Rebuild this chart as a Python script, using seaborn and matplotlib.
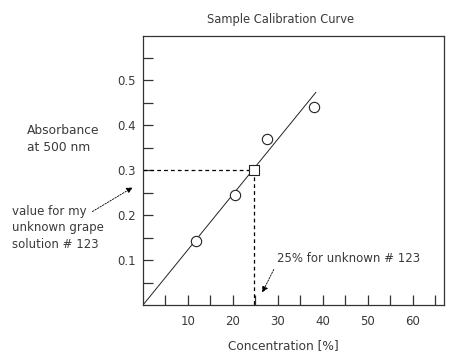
#!/usr/bin/env python3

import numpy as np
import pandas as pd
import matplotlib
matplotlib.use('Agg')
import matplotlib.pyplot as plt
import seaborn as sns

# calibration standards
conc = [11.8, 20.5, 27.7, 38.0]
absorb = [0.143, 0.244, 0.368, 0.440]

# fitted line end points
fit_x = [0.0, 38.5]
fit_y = [0.0, 0.473]

# unknown sample
unk_x = [24.7]
unk_y = [0.30]

x_major = [10, 20, 30, 40, 50, 60]
y_major = [0.1, 0.2, 0.3, 0.4, 0.5]

if __name__ == "__main__":
    sns.set_style('white')
    plt.rcParams['font.family'] = ['DejaVu Sans']
    txt = '#3a3a3a'

    std = pd.DataFrame({'Concentration': conc, 'Absorbance': absorb})
    fit = pd.DataFrame({'Concentration': fit_x, 'Absorbance': fit_y})
    unk = pd.DataFrame({'Concentration': unk_x, 'Absorbance': unk_y})

    fig = plt.figure(figsize=(4.72, 3.59), dpi=100)
    ax = fig.add_axes([143 / 472, 1 - 305 / 359, 301 / 472, 269 / 359])

    sns.lineplot(data=fit, x='Concentration', y='Absorbance', ax=ax,
                 color='#222222', lw=0.7)
    # dashed guide lines to the unknown
    ax.plot([0, unk_x[0]], [unk_y[0], unk_y[0]], ls=(0, (3, 2.5)), color='k', lw=0.9)
    ax.plot([unk_x[0], unk_x[0]], [unk_y[0], 0], ls=(0, (3, 2.5)), color='k', lw=0.9)
    sns.scatterplot(data=std, x='Concentration', y='Absorbance', ax=ax,
                    marker='o', s=55, facecolor='white', edgecolor='#222222',
                    linewidth=0.8, zorder=5)
    sns.scatterplot(data=unk, x='Concentration', y='Absorbance', ax=ax,
                    marker='s', s=50, facecolor='white', edgecolor='#222222',
                    linewidth=0.8, zorder=5)

    ax.set_xlim(0, 67)
    ax.set_ylim(0, 0.598)
    ax.set_xticks(x_major)
    ax.set_xticks(np.arange(5, 66, 10), minor=True)
    ax.set_yticks(y_major)
    ax.set_yticks(np.arange(0.05, 0.56, 0.1), minor=True)
    ax.set_xticklabels([str(v) for v in x_major])
    ax.set_yticklabels(['{:.1f}'.format(v) for v in y_major])
    ax.tick_params(which='both', direction='in', length=7, width=0.9,
                   color='#333333', labelsize=8.5, labelcolor=txt, pad=7,
                   bottom=True, left=True)
    ax.tick_params(axis='y', pad=5)
    for s in ax.spines.values():
        s.set_color('#333333')
        s.set_linewidth(0.9)
    ax.set_xlabel('')
    ax.set_ylabel('')

    fig.text(281 / 472, 1 - 20 / 359, 'Sample Calibration Curve', ha='center',
             va='center', fontsize=8.3, color=txt)
    fig.text(283 / 472, 1 - 346 / 359, 'Concentration [%]', ha='center',
             va='center', fontsize=8.7, color=txt)
    fig.text(27 / 472, 1 - 139 / 359, 'Absorbance\nat 500 nm', ha='left',
             va='center', fontsize=8.8, color=txt, linespacing=1.4)
    fig.text(12 / 472, 1 - 228 / 359, 'value for my\nunknown grape\nsolution # 123',
             ha='left', va='center', fontsize=8.5, color=txt, linespacing=1.35)
    fig.text(277 / 472, 1 - 259 / 359, '25% for unknown # 123', ha='left',
             va='center', fontsize=8.5, color=txt)

    arrow = dict(arrowstyle='-|>', color='k', lw=0.6, ls=(0, (2, 1.5)),
                 mutation_scale=9)
    ax.annotate('', xy=(135 / 472, 1 - 186 / 359), xycoords='figure fraction',
                xytext=(90 / 472, 1 - 213 / 359), textcoords='figure fraction',
                arrowprops=arrow, annotation_clip=False)
    ax.annotate('', xy=(261 / 472, 1 - 295 / 359), xycoords='figure fraction',
                xytext=(275 / 472, 1 - 267 / 359), textcoords='figure fraction',
                arrowprops=arrow, annotation_clip=False)

    fig.savefig('out.png', dpi=100)
